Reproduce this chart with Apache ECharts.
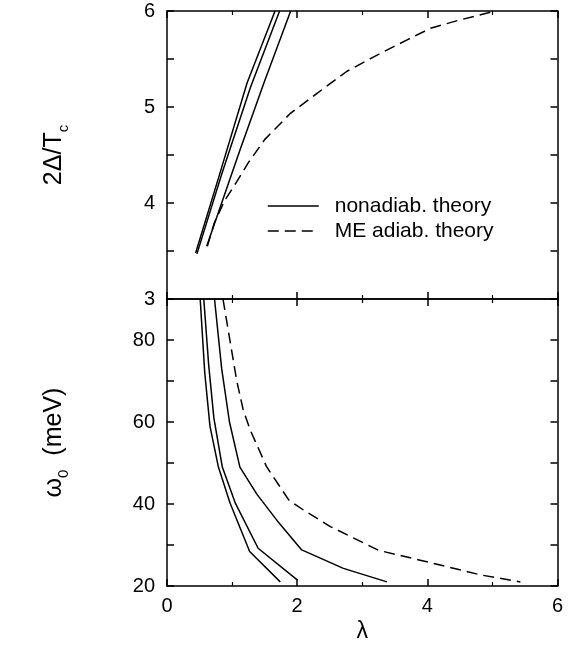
<!DOCTYPE html>
<html>
<head>
<meta charset="utf-8">
<script src="https://cdn.jsdelivr.net/npm/echarts@6/dist/echarts.min.js"></script>
<style>html,body{margin:0;padding:0;background:#fff;}#c{width:574px;height:645px;}</style>
</head>
<body>
<div id="c"></div>
<script>
// ---- data (lambda, value) ----
var xTicks = [0, 2, 4, 6];
var gapTicks = [3, 4, 5, 6];
var omegaTicks = [20, 40, 60, 80];

// top panel: 2Δ/Tc vs λ
var gapNonadA = [[0.44,3.48],[0.80,4.28],[1.23,5.25],[1.66,6.0]];
var gapNonadB = [[0.46,3.47],[0.84,4.30],[1.28,5.20],[1.73,6.0]];
var gapNonadC = [[0.61,3.55],[1.12,4.55],[1.50,5.27],[1.90,6.0]];
var gapME = [[0.62,3.55],[0.73,3.80],[0.89,4.03],[1.07,4.22],[1.25,4.42],[1.50,4.66],[1.89,4.93],[2.30,5.14],[2.76,5.37],[3.17,5.52],[3.69,5.70],[4.05,5.82],[4.46,5.90],[5.05,6.0]];

// bottom panel: ω0 (meV) vs λ
var omNonadA = [[0.51,90],[0.58,72],[0.66,59],[0.79,49],[0.97,40.2],[1.27,28.4],[1.74,21.0]];
var omNonadB = [[0.565,90],[0.64,74],[0.72,61],[0.85,49],[1.05,40.2],[1.40,29.2],[2.0,21.5]];
var omNonadC = [[0.73,90],[0.84,73],[0.96,60],[1.12,49],[1.38,42.4],[1.69,36],[2.07,28.8],[2.71,24.3],[3.38,21.0]];
var omME = [[0.86,90],[1.07,70.2],[1.17,63],[1.28,58],[1.53,49.1],[1.87,41.0],[2.10,38.5],[2.51,34.5],[3.25,28.7],[3.89,26.3],[4.82,22.7],[5.43,21.0]];

var NAME_SOLID = 'nonadiab. theory';
var NAME_DASH = 'ME adiab. theory';

var FONT = 'Liberation Sans, Arial, Helvetica, sans-serif';
var chart = echarts.init(document.getElementById('c'), null, {renderer: 'canvas'});

var axLine = {show: true, onZero: false, lineStyle: {color: '#000', width: 1.5}};
function xAx(grid, pos, labels) {
  return {
    type: 'value', gridIndex: grid, position: pos, min: 0, max: 6, interval: 2,
    axisLine: axLine,
    axisTick: {show: true, inside: true, length: 7, lineStyle: {color: '#000', width: 1.5}},
    minorTick: {show: true, splitNumber: 2, length: 4, lineStyle: {color: '#000', width: 1.2}},
    splitLine: {show: false}, minorSplitLine: {show: false},
    axisLabel: {show: labels, color: '#000', fontSize: 20, fontFamily: FONT, margin: 10,
      formatter: function (v) { return xTicks.indexOf(v) >= 0 ? String(v) : ''; }},
    name: labels ? 'λ' : '', nameLocation: 'middle', nameGap: 34,
    nameTextStyle: {color: '#000', fontSize: 23, fontFamily: FONT}
  };
}
function yAx(grid, pos, min, max, interval, ticks, labels, name) {
  return {
    type: 'value', gridIndex: grid, position: pos, min: min, max: max, interval: interval,
    axisLine: axLine,
    axisTick: {show: true, inside: true, length: 7, lineStyle: {color: '#000', width: 1.5}},
    splitLine: {show: false},
    axisLabel: {show: labels, color: '#000', fontSize: 20, fontFamily: FONT, margin: 12,
      formatter: function (v) { return ticks.indexOf(v) >= 0 ? String(v) : ''; }},
    name: name || '', nameLocation: 'middle', nameRotate: 90, nameGap: 98,
    nameTextStyle: {color: '#000', fontSize: 25, fontFamily: FONT,
      rich: {
        a: {fontSize: 25, fontFamily: FONT, color: '#000', lineHeight: 30},
        s: {fontSize: 15, fontFamily: FONT, color: '#000', verticalAlign: 'bottom', lineHeight: 30, padding: [0, 0, -2, 0]}
      }}
  };
}

function line(name, data, xi, yi, dashed) {
  return {
    type: 'line', name: name, data: data, xAxisIndex: xi, yAxisIndex: yi,
    symbol: 'none', showSymbol: false, silent: true, animation: false,
    lineStyle: {color: '#000', width: 1.5, type: dashed ? [11, 6] : 'solid'},
    itemStyle: {color: '#000'}
  };
}

var option = {
  backgroundColor: '#fff',
  animation: false,
  grid: [
    {left: 167, top: 11, width: 390.5, height: 288},
    {left: 167, top: 299, width: 390.5, height: 287}
  ],
  xAxis: [
    xAx(0, 'bottom', false), xAx(0, 'top', false),
    xAx(1, 'bottom', true), xAx(1, 'top', false)
  ],
  yAxis: [
    yAx(0, 'left', 3, 6, 0.5, gapTicks, true, '{a|2Δ/T}{s|c}'),
    yAx(0, 'right', 3, 6, 0.5, gapTicks, false),
    yAx(1, 'left', 20, 90, 10, omegaTicks, true, '{a|ω}{s|0}{a|  (meV)}'),
    yAx(1, 'right', 20, 90, 10, omegaTicks, false)
  ],
  legend: {
    data: [NAME_SOLID, NAME_DASH],
    orient: 'vertical', left: 262, top: 190,
    itemWidth: 51, itemHeight: 14, itemGap: 3,
    itemStyle: {opacity: 0, borderWidth: 0},
    lineStyle: {width: 1.5, color: '#000'},
    textStyle: {color: '#000', fontSize: 21, fontFamily: FONT, lineHeight: 22, padding: [0, 0, 0, 11]},
    selectedMode: false
  },
  series: [
    line(NAME_SOLID, gapNonadA, 0, 0, false),
    line(NAME_SOLID, gapNonadB, 0, 0, false),
    line(NAME_SOLID, gapNonadC, 0, 0, false),
    line(NAME_DASH, gapME, 0, 0, true),
    line(NAME_SOLID, omNonadA, 2, 2, false),
    line(NAME_SOLID, omNonadB, 2, 2, false),
    line(NAME_SOLID, omNonadC, 2, 2, false),
    line(NAME_DASH, omME, 2, 2, true)
  ]
};
chart.setOption(option);
</script>
</body>
</html>
